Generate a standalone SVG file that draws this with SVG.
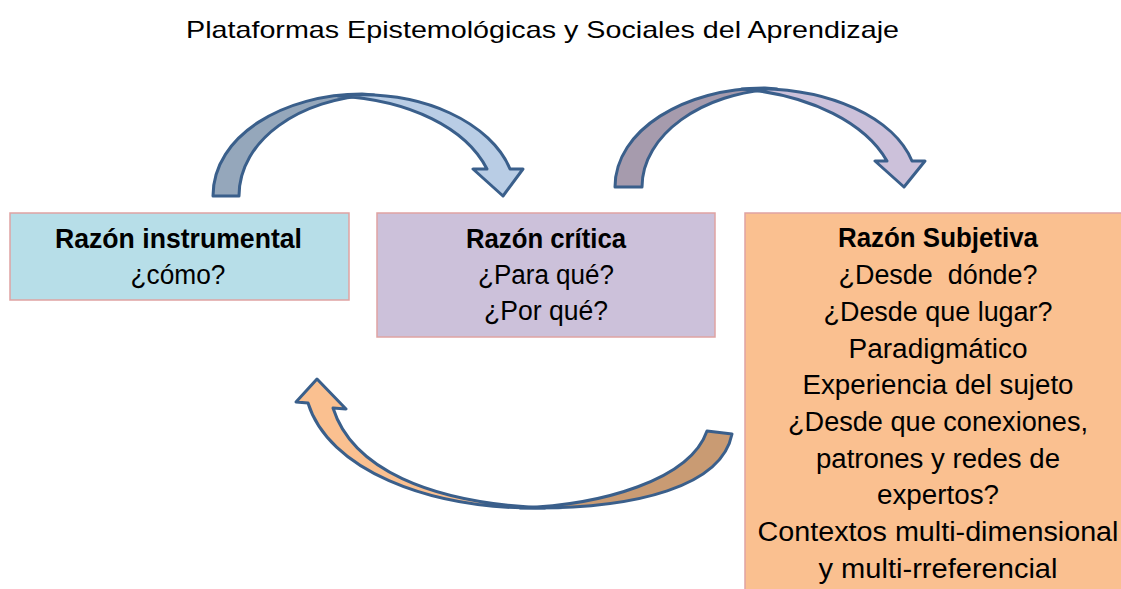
<svg xmlns="http://www.w3.org/2000/svg" width="1121" height="589" viewBox="0 0 1121 589">
<style>
text{font-family:"Liberation Sans",Arial,sans-serif;fill:#000;text-anchor:middle;white-space:pre}
.t{font-size:24px}
.r{font-size:27px}
.b{font-size:27px;font-weight:bold}
.box{stroke:#DFA3A2;stroke-width:1.5}
.arr{stroke:#3A5F8B;stroke-width:3;stroke-linejoin:round}
</style>
<rect width="1121" height="589" fill="#fff"/>
<text class="t" x="542.5" y="38" textLength="713" lengthAdjust="spacingAndGlyphs">Plataformas Epistemológicas y Sociales del Aprendizaje</text>
<g id="connectors">
<g id="arrow-top-left">
<path class="arr" fill="#95A7BB" d="M213,196 C213,135 285,94 362,94 L374,95 C300,98 239,140 239,196 Z"/>
<path class="arr" fill="#B9CDE5" d="M338,96 C425,88 492,125 510,169 L523,169 L503,196 L473,169 L487,169 C466,128 410,100 338,96 Z"/>
</g>
<g id="arrow-top-right">
<path class="arr" fill="#A69BAD" d="M615,187 C615,130 685,88 765,88 L777,89 C702,92 642,135 642,187 Z"/>
<path class="arr" fill="#CCC1DA" d="M742,89 C832,85 895,120 912,161 L925,161 L904,187 L875,161 L887,161 C866,124 812,95 742,89 Z"/>
</g>
<g id="arrow-bottom">
<path class="arr" fill="#C99B73" d="M707,431 L732,434 C722,485 640,510 520,508 C602,505 690,480 707,431 Z"/>
<path class="arr" fill="#FAC090" d="M296,402 L317,379 L346,409 L333,408 C352,468 428,503 545,508 C425,510 328,468 308,403 Z"/>
</g>
</g>
<g id="node-instrumental">
<rect class="box" x="10" y="213" width="339" height="87" fill="#B7DEE8"/>
<text class="b" x="178.5" y="248" textLength="247" lengthAdjust="spacingAndGlyphs">Razón instrumental</text>
<text class="r" x="178" y="284" textLength="95" lengthAdjust="spacingAndGlyphs">¿cómo?</text>
</g>
<g id="node-critica">
<rect class="box" x="377" y="213" width="338" height="124" fill="#CCC1DA"/>
<text class="b" x="546" y="248" textLength="160" lengthAdjust="spacingAndGlyphs">Razón crítica</text>
<text class="r" x="546" y="284" textLength="136" lengthAdjust="spacingAndGlyphs">¿Para qué?</text>
<text class="r" x="546" y="320" textLength="124" lengthAdjust="spacingAndGlyphs">¿Por qué?</text>
</g>
<g id="node-subjetiva">
<rect class="box" x="745" y="213" width="390" height="390" fill="#FAC090"/>
<text class="b" x="938" y="247" textLength="200" lengthAdjust="spacingAndGlyphs">Razón Subjetiva</text>
<text class="r" x="938" y="284" textLength="199" lengthAdjust="spacingAndGlyphs">¿Desde  dónde?</text>
<text class="r" x="938" y="321" textLength="229" lengthAdjust="spacingAndGlyphs">¿Desde que lugar?</text>
<text class="r" x="938" y="358" textLength="179" lengthAdjust="spacingAndGlyphs">Paradigmático</text>
<text class="r" x="938" y="394" textLength="271" lengthAdjust="spacingAndGlyphs">Experiencia del sujeto</text>
<text class="r" x="938" y="431" textLength="300" lengthAdjust="spacingAndGlyphs">¿Desde que conexiones,</text>
<text class="r" x="938" y="468" textLength="244" lengthAdjust="spacingAndGlyphs">patrones y redes de</text>
<text class="r" x="938" y="504" textLength="122" lengthAdjust="spacingAndGlyphs">expertos?</text>
<text class="r" x="938" y="541" textLength="361" lengthAdjust="spacingAndGlyphs">Contextos multi-dimensional</text>
<text class="r" x="938" y="578" textLength="239" lengthAdjust="spacingAndGlyphs">y multi-rreferencial</text>
</g>
</svg>
